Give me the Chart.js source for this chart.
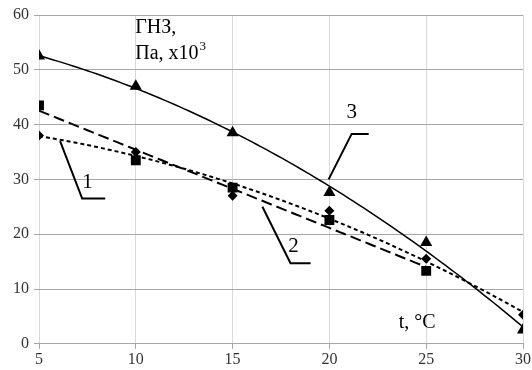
<!DOCTYPE html>
<html>
<head>
<meta charset="utf-8">
<script src="https://cdn.jsdelivr.net/npm/chart.js@4"></script>
<style>
  html, body { margin: 0; padding: 0; background: #fff; }
  #wrap { width: 532px; height: 370px; }
</style>
</head>
<body>
<div id="wrap"><canvas id="myChart"></canvas></div>
<script>
// data
var temps = [5, 10, 15, 20, 25, 30];
var series1 = [38, 35, 27, 24.3, 15.5, 5.3];     // diamonds
var series2 = [43.5, 33.5, 28.5, 22.6, 13.3];    // squares (no point at 30)
var series3 = [52.5, 47, 38.5, 27.6, 18.5, 2.5]; // triangles
var xTicks = [5, 10, 15, 20, 25, 30];
var yTicks = [0, 10, 20, 30, 40, 50, 60];

// leader lines for the curve numbers (data units)
var leader1 = [[6.09, 37.0], [7.23, 26.5], [8.42, 26.5]];
var leader2 = [[16.54, 25.0], [17.99, 14.7], [19.03, 14.7]];
var leader3 = [[19.96, 30.0], [21.15, 38.3], [22.03, 38.3]];

var labels = [
  { text: '1', x: 7.5, y: 29.4 },
  { text: '2', x: 18.15, y: 17.7 },
  { text: '3', x: 21.15, y: 42.3 }
];

// least squares polynomial fit, like an Excel trendline
function polyFit(xs, ys, order) {
  var n = order + 1;
  var m = [];
  for (var i = 0; i < n; i++) {
    m.push([]);
    for (var j = 0; j <= n; j++) m[i].push(0);
  }
  xs.forEach(function (x, k) {
    for (var i = 0; i < n; i++) {
      for (var j = 0; j < n; j++) m[i][j] += Math.pow(x, i + j);
      m[i][n] += ys[k] * Math.pow(x, i);
    }
  });
  for (var c = 0; c < n; c++) {
    for (var r = c + 1; r < n; r++) {
      var f = m[r][c] / m[c][c];
      for (var q = c; q <= n; q++) m[r][q] -= f * m[c][q];
    }
  }
  var coef = new Array(n);
  for (var i = n - 1; i >= 0; i--) {
    var s = m[i][n];
    for (var j = i + 1; j < n; j++) s -= m[i][j] * coef[j];
    coef[i] = s / m[i][i];
  }
  return coef;
}

function trend(xs, ys, order) {
  var coef = polyFit(xs, ys, order);
  var pts = [];
  var x0 = xs[0], x1 = xs[xs.length - 1];
  for (var x = x0; x <= x1 + 1e-9; x += 0.25) {
    var y = 0;
    coef.forEach(function (c, i) { y += c * Math.pow(x, i); });
    pts.push({ x: x, y: y });
  }
  return pts;
}

function points(ys) {
  return ys.map(function (y, i) { return { x: temps[i], y: y }; });
}

function leaderLine(pts) {
  return {
    data: pts.map(function (p) { return { x: p[0], y: p[1] }; }),
    showLine: true, borderColor: '#000', borderWidth: 2,
    pointRadius: 0, fill: false, order: 0
  };
}

// text on the plot: axis captions and curve numbers
var textPlugin = {
  id: 'plotText',
  afterDatasetsDraw: function (chart) {
    var ctx = chart.ctx;
    var xs = chart.scales.x, ys = chart.scales.y;
    ctx.save();
    ctx.fillStyle = '#000';
    ctx.textBaseline = 'middle';

    ctx.font = '21px "Liberation Serif"';
    ctx.textAlign = 'center';
    labels.forEach(function (l) {
      ctx.fillText(l.text, xs.getPixelForValue(l.x), ys.getPixelForValue(l.y));
    });

    ctx.textAlign = 'left';
    ctx.font = '20px "Liberation Serif"';
    var lx = xs.getPixelForValue(9.97);
    ctx.fillText('ГНЗ,', lx, ys.getPixelForValue(57.6));
    var py = ys.getPixelForValue(53.0);
    var t = 'Па, x10';
    ctx.fillText(t, lx, py);
    var w = ctx.measureText(t).width;
    ctx.font = '13px "Liberation Serif"';
    ctx.fillText('3', lx + w + 1, py - 7);

    ctx.font = '20px "Liberation Serif"';
    ctx.fillText('t, °C', xs.getPixelForValue(23.58), ys.getPixelForValue(3.9));
    ctx.restore();
  }
};

var tickFont = { family: 'Liberation Serif', size: 16 };

new Chart(document.getElementById('myChart'), {
  type: 'scatter',
  data: {
    datasets: [
      {
        data: points(series1), pointStyle: 'rectRot', pointRadius: 5,
        pointBackgroundColor: '#000', pointBorderColor: '#000', pointBorderWidth: 0, order: 2
      },
      {
        data: points(series2), pointStyle: 'rect', pointRadius: 7,
        pointBackgroundColor: '#000', pointBorderColor: '#000', pointBorderWidth: 0, order: 2
      },
      {
        data: points(series3), pointStyle: 'triangle', pointRadius: 7,
        pointBackgroundColor: '#000', pointBorderColor: '#000', pointBorderWidth: 0, order: 2
      },
      {
        data: trend(temps, series1, 2), showLine: true, borderColor: '#000',
        borderWidth: 2, borderDash: [4, 3], pointRadius: 0, order: 1
      },
      {
        data: trend(temps.slice(0, series2.length), series2, 1), showLine: true, borderColor: '#000',
        borderWidth: 2, borderDash: [11, 5], pointRadius: 0, order: 1
      },
      {
        data: trend(temps, series3, 2), showLine: true, borderColor: '#000',
        borderWidth: 1.5, pointRadius: 0, order: 1
      },
      leaderLine(leader1),
      leaderLine(leader2),
      leaderLine(leader3)
    ]
  },
  options: {
    responsive: true,
    maintainAspectRatio: false,
    animation: false,
    layout: { padding: { top: 15, right: 2, bottom: 0, left: 8 } },
    plugins: {
      legend: { display: false },
      tooltip: { enabled: false }
    },
    scales: {
      x: {
        type: 'linear', min: 5, max: 30,
        afterBuildTicks: function (axis) {
          axis.ticks = xTicks.map(function (v) { return { value: v }; });
        },
        ticks: { color: '#333', font: tickFont, padding: 1, maxRotation: 0 },
        grid: { color: '#d9d9d9', lineWidth: 1, tickLength: 5, tickColor: '#a6a6a6' },
        border: { color: '#a6a6a6' }
      },
      y: {
        min: 0, max: 60,
        afterBuildTicks: function (axis) {
          axis.ticks = yTicks.map(function (v) { return { value: v }; });
        },
        ticks: { color: '#333', font: tickFont, padding: 5 },
        grid: { color: '#a6a6a6', lineWidth: 1, tickLength: 5 },
        border: { display: false }
      }
    }
  },
  plugins: [textPlugin]
});
</script>
</body>
</html>
